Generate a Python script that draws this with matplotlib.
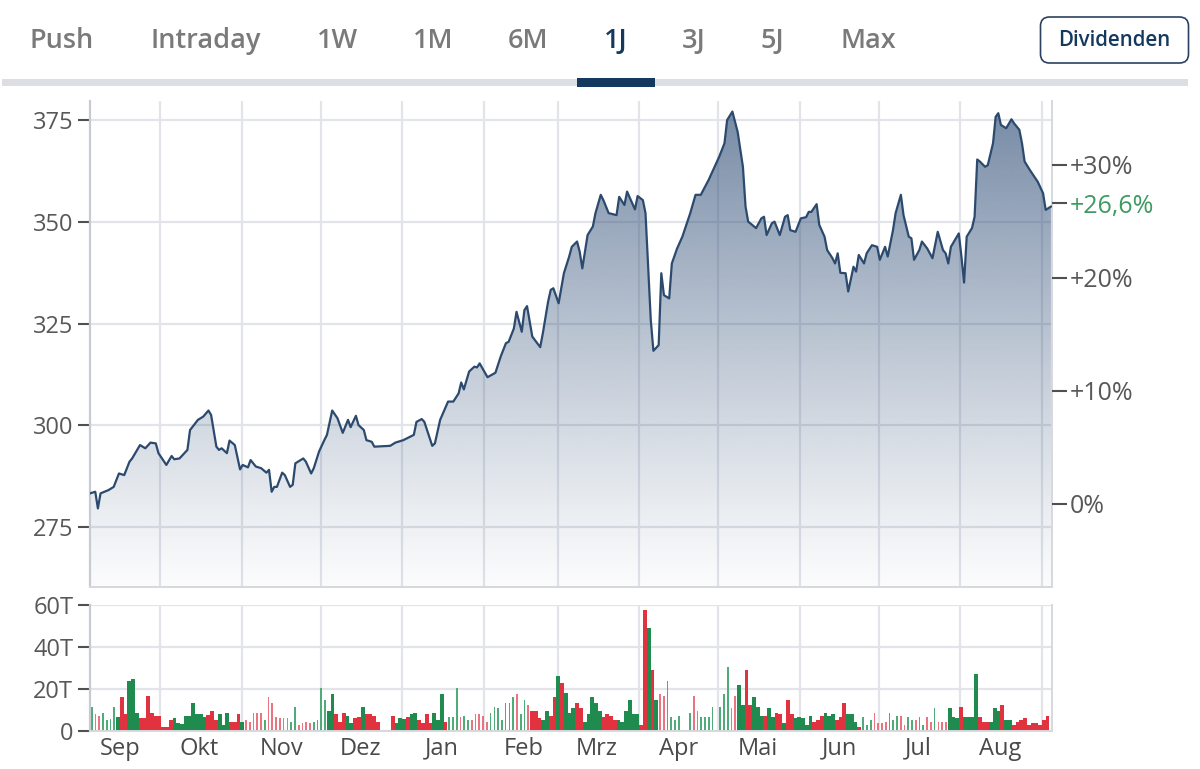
import numpy as np
import pandas as pd
import matplotlib.pyplot as plt
import matplotlib.dates as mdates
from matplotlib.patches import Rectangle, FancyBboxPatch
from matplotlib.transforms import IdentityTransform
from matplotlib.ticker import FixedLocator, FuncFormatter

plt.rcParams['font.family'] = ['Open Sans', 'DejaVu Sans']

# ---------------- data ----------------
start = pd.Timestamp('2022-09-04')

# day offsets from start and closing prices
price_day = [0, 2, 3, 4, 7, 9, 11, 13, 15, 16,
             19, 21, 23, 25, 26, 29, 31, 32, 34, 37,
             38, 41, 43, 45, 46, 48, 49, 50, 52, 53,
             55, 57, 58, 60, 61, 63, 65, 67, 68, 69,
             70, 71, 73, 74, 76, 77, 78, 81, 82, 84,
             85, 87, 89, 90, 92, 94, 96, 98, 99, 101,
             102, 104, 105, 107, 108, 114, 116, 119, 123, 124,
             126, 127, 130, 131, 133, 136, 138, 140, 141, 142,
             144, 146, 147, 148, 151, 154, 156, 158, 159, 161,
             162, 164, 165, 166, 168, 171, 172, 174, 175, 176,
             178, 180, 182, 183, 185, 186, 187, 189, 191, 192,
             194, 195, 197, 200, 201, 203, 204, 206, 207, 208,
             210, 211, 213, 214, 216, 217, 218, 220, 221, 223,
             225, 228, 230, 232, 235, 239, 241, 242, 244, 245,
             246, 248, 249, 250, 253, 255, 256, 257, 259, 260,
             262, 264, 265, 266, 268, 270, 272, 273, 274, 276,
             277, 279, 280, 282, 283, 284, 285, 287, 288, 290,
             291, 292, 294, 295, 297, 299, 300, 302, 303, 305,
             306, 308, 309, 311, 312, 313, 315, 316, 318, 320,
             322, 324, 325, 326, 327, 330, 331, 332, 333, 335,
             336, 337, 338, 340, 341, 343, 344, 345, 346, 348,
             350, 351, 353, 354, 355, 357, 360, 362, 363, 365]

price = [283.2, 283.6, 279.5, 283.2, 284.0, 284.8, 288.1, 287.7, 291.0, 291.8,
         295.1, 294.3, 295.7, 295.5, 293.1, 290.2, 292.4, 291.6, 291.8, 293.9,
         298.8, 301.3, 302.1, 303.6, 302.5, 294.7, 293.9, 294.3, 293.1, 296.2,
         295.1, 289.1, 290.2, 289.6, 291.4, 289.8, 289.4, 288.3, 289.0, 283.6,
         284.8, 284.8, 288.3, 287.7, 284.8, 285.3, 290.6, 291.8, 291.0, 288.1,
         289.4, 293.5, 296.3, 297.6, 303.6, 301.7, 298.1, 301.3, 299.5, 302.3,
         300.0, 298.8, 296.3, 295.9, 294.7, 294.9, 295.7, 296.3, 297.6, 300.8,
         301.5, 300.8, 294.9, 295.5, 301.3, 305.8, 305.8, 307.8, 310.5, 308.8,
         313.2, 314.4, 314.2, 315.2, 311.8, 312.9, 316.9, 320.2, 320.5, 323.8,
         327.9, 323.0, 328.3, 329.3, 321.8, 319.2, 322.6, 330.4, 333.3, 333.7,
         330.0, 337.4, 341.5, 343.9, 345.2, 342.7, 338.6, 346.8, 348.9, 352.2,
         356.7, 355.4, 352.2, 351.7, 356.2, 354.2, 357.5, 354.6, 353.1, 356.4,
         355.4, 352.2, 325.9, 318.3, 319.7, 337.4, 332.0, 331.2, 339.8, 343.5,
         346.4, 352.2, 356.7, 356.7, 360.4, 366.1, 369.4, 375.1, 377.2, 374.7,
         372.2, 363.6, 353.8, 350.1, 348.5, 350.9, 351.3, 346.8, 349.7, 350.1,
         346.8, 351.3, 351.7, 348.0, 347.6, 350.9, 351.2, 352.5, 352.5, 354.4,
         349.3, 346.4, 343.1, 341.1, 339.8, 342.3, 337.5, 337.4, 332.9, 339.0,
         337.8, 341.9, 339.8, 342.3, 344.3, 343.9, 340.7, 343.9, 341.5, 348.0,
         352.2, 356.7, 351.7, 346.4, 346.0, 340.7, 343.1, 345.2, 343.5, 341.1,
         347.6, 343.1, 342.3, 339.8, 343.9, 347.2, 341.5, 335.1, 346.4, 348.5,
         351.3, 365.4, 364.9, 363.6, 364.0, 369.4, 375.9, 376.8, 373.9, 373.1,
         375.3, 374.3, 372.7, 369.4, 364.9, 362.8, 359.9, 357.1, 353.0, 353.8]

# daily volume in thousands (T) and bar kind: G/R solid up/down, g/r light, - none
volume = [11.6, 8, 7, 8.7, 5.2, 5.5, 11.6, 6.5, 16, 8,
          23.8, 24.6, 8.7, 6, 6, 16.7, 8.7, 7, 7, 2,
          2, 5.2, 6, 4, 3.3, 7, 7, 13.2, 8, 8,
          6.8, 7.6, 9.7, 5.2, 8, 2.9, 8.7, 4.4, 4.4, 8,
          4.4, 5.2, 4.4, 8.7, 8.7, 8.7, 5.2, 16, 13.2, 6.5,
          6, 6, 6, 4.4, 11.6, 2.9, 3.7, 4.4, 4, 4.4,
          5.2, 20.3, 15, 9.7, 17.6, 8, 4.4, 8.7, 7, 3.7,
          6, 6.5, 11.6, 8, 8, 7, 4.4, 0, 0, 0,
          7, 3.7, 6, 5.5, 6.5, 8, 8.7, 5.2, 4, 8,
          4, 8.7, 5.2, 17.6, 4.4, 6.5, 6.5, 20.3, 6.5, 7,
          5.2, 5.2, 8, 8, 7, 4.4, 8.7, 11.6, 10.8, 5.2,
          13.2, 13.2, 16, 17.6, 8, 15, 12.4, 9.7, 9.7, 6,
          5.2, 9.7, 7, 16, 26.2, 22.7, 18.3, 8.7, 10.8, 13.2,
          10.8, 4.4, 8, 16, 13.2, 9.7, 6.5, 8, 7, 5.2,
          5.2, 4.4, 9.7, 15, 8, 8, 2.9, 57.6, 48.9, 29,
          15, 17.6, 16.7, 24, 6.5, 5.2, 7, 0, 0, 8.7,
          16.7, 9.7, 6.5, 6.5, 6.5, 11.6, 0, 11.6, 17.6, 30.6,
          10.8, 16.7, 21.9, 12.4, 29, 12.4, 16, 11.6, 7, 7,
          10.8, 6.5, 8.7, 8, 3.7, 15, 8, 6, 6.5, 6,
          2.9, 7, 4.4, 5.2, 7, 8.7, 7, 8, 5.2, 6.5,
          13.2, 8, 8, 4.4, 2, 6.5, 2.9, 5.2, 8.7, 3.7,
          3.7, 4.4, 8.7, 5.2, 7, 7, 2.9, 6.5, 5.2, 5.2,
          6.5, 2.9, 6.5, 4.4, 10.8, 4.4, 4.4, 4.4, 10.8, 6.5,
          6, 11.6, 6.5, 6.5, 6.5, 27.1, 6.5, 4.4, 4.4, 4.4,
          10.8, 9.7, 12.4, 5.2, 5.2, 2.9, 4.4, 5.2, 6, 2.9,
          3.7, 3.7, 2.9, 5.2, 7]
vol_kind = ("grrggggGRR" "GGGRRRRRRR" "RRGGGGGGGG" "GRRRGGGRRR" "Grrrrrgrrr"
            "rrrggrrrrg" "gggGGRRRGG" "RRGRRRR---" "RGGGRGGRRR" "RGGGRgggrg"
            "grrrrrgggg" "gggrggrRRR" "GGRRGRGGGR" "RGGGGGRRRR" "GGGGGGRRGR"
            "Grrgggg--g" "rrgggg-ggg" "rrGGRRGGGR" "GGRRGRRGGG" "GGRRRGGGRR"
            "RGGGRgggrr" "rrgggrrggr" "ggrrgrrrGG" "GRGGGGRRRG" "GGRGGRRRRR"
            "RRRRR")

price_ticks = [275, 300, 325, 350, 375]
vol_ticks = [0, 20, 40, 60]
vol_labels = ['0', '20T', '40T', '60T']
pct_ticks = [0, 10, 20, 30]
pct_labels = ['0%', '+10%', '+20%', '+30%']
pct_now = 26.6
month_labels = ['Jan', 'Feb', 'Mrz', 'Apr', 'Mai', 'Jun',
                'Jul', 'Aug', 'Sep', 'Okt', 'Nov', 'Dez']
tabs = ['Push', 'Intraday', '1W', '1M', '6M', '1J', '3J', '5J', 'Max']
active_tab = '1J'

# ---------------- layout ----------------
W, H = 1200, 769
fig = plt.figure(figsize=(W / 100, H / 100), dpi=100)

def fx(x):
    return x / W

def fy(y):
    return 1 - y / H

GREY_TXT = '#585858'
GRID = '#e2e4ea'
SPINE = '#d6d8de'

# tab bar
tab_x = [62, 206, 337, 433, 528, 616, 694, 772, 868]
for name, x in zip(tabs, tab_x):
    active = name == active_tab
    fig.text(fx(x), fy(41), name, ha='center', va='center', fontsize=19.5,
             fontweight='semibold', color='#15395e' if active else '#7a7a7a')
fig.add_artist(Rectangle((fx(2), fy(86)), 1186 / W, 7 / H, transform=fig.transFigure,
                         facecolor='#dcdee4', edgecolor='none'))
fig.add_artist(Rectangle((fx(577), fy(87)), 78 / W, 9 / H, transform=fig.transFigure,
                         facecolor='#15395e', edgecolor='none'))
fig.add_artist(FancyBboxPatch((1040.5, H - 63), 148, 46, transform=IdentityTransform(),
                              boxstyle='round,pad=0,rounding_size=9',
                              facecolor='white', edgecolor='#2b4160', linewidth=1.2))
fig.text(fx(1114), fy(41), 'Dividenden', ha='center', va='center', fontsize=14.8,
         fontweight='semibold', color='#15395e')

# x range in date numbers
x0 = mdates.date2num(start)
xlim = (x0 + 0.4, x0 + 0.4 + 365.4)
px = x0 + 0.4 + np.array(price_day, dtype=float)
py = np.array(price)
ylim = (260.15, 379.8)

# ---------------- price chart ----------------
ax = fig.add_axes([fx(90), fy(587), 962 / W, 486 / H])
ax.xaxis_date()
ax.set_axisbelow(True)
ax.grid(True, color=GRID, linewidth=1.6)
ax.xaxis.set_major_locator(mdates.MonthLocator())
ax.tick_params(axis='x', length=0, labelbottom=False)
ax.yaxis.set_major_locator(FixedLocator(price_ticks))
ax.set_yticklabels([str(t) for t in price_ticks])
ax.tick_params(axis='y', length=9, width=1.5, color='#505050', pad=3,
               labelsize=17, labelcolor=GREY_TXT)
ax.spines['top'].set_visible(False)
ax.spines['left'].set_color('#c8cbd3')
ax.spines['left'].set_linewidth(1.6)
for s in ('right', 'bottom'):
    ax.spines[s].set_color(SPINE)
    ax.spines[s].set_linewidth(1.4)

# gradient fill under the line
n = 256
t = np.linspace(0, 1, n)
grad = np.zeros((n, 1, 4))
grad[:, 0, 0] = 52 / 255
grad[:, 0, 1] = 82 / 255
grad[:, 0, 2] = 122 / 255
grad[:, 0, 3] = 0.66 * (1 - t) ** 1.1 + 0.02
im = ax.imshow(grad, extent=[xlim[0], xlim[1], ylim[0], ylim[1]], aspect='auto',
               origin='upper', zorder=1, interpolation='bilinear')
poly = ax.fill_between(px, py, ylim[0], facecolor='none', linewidth=0)
im.set_clip_path(poly.get_paths()[0], transform=ax.transData)
ax.plot(px, py, color='#2c4a6e', linewidth=1.6, zorder=3)
ax.set_xlim(*xlim)
ax.set_ylim(*ylim)

# percentage axis on the right
axr = ax.twinx()
axr.set_ylim(-7.35, 35.66)
axr.yaxis.set_major_locator(FixedLocator(pct_ticks + [pct_now]))
axr.set_yticklabels(pct_labels + ['+' + f'{pct_now:.1f}'.replace('.', ',') + '%'])
axr.tick_params(axis='y', length=11, width=1.5, color='#505050', pad=2,
                labelsize=18, labelcolor=GREY_TXT)
axr.get_yticklabels()[-1].set_color('#3d9a60')
for s in axr.spines.values():
    s.set_visible(False)

# ---------------- volume chart ----------------
axv = fig.add_axes([fx(90), fy(731), 962 / W, 126 / H])
axv.xaxis_date()
axv.set_axisbelow(True)
axv.grid(True, which='major', color=GRID, linewidth=1.6)

nv = len(volume)
vx = x0 + np.linspace(1.05, 364.1, nv)
step = vx[1] - vx[0]
vol = np.array(volume)
kinds = np.array(list(vol_kind))
styles = {'G': ('#1f8b4f', 1.0), 'R': ('#e0323f', 1.0),
          'g': ('#4fab77', 0.45), 'r': ('#ec7481', 0.45)}
for k, (col, wf) in styles.items():
    m = kinds == k
    axv.bar(vx[m], vol[m], width=step * wf, color=col, linewidth=0, zorder=2)

axv.set_xlim(*xlim)
axv.set_ylim(0, 60)
axv.yaxis.set_major_locator(FixedLocator(vol_ticks))
axv.set_yticklabels(vol_labels)
axv.tick_params(axis='y', length=9, width=1.5, color='#505050', pad=3,
                labelsize=17, labelcolor=GREY_TXT)
axv.xaxis.set_major_locator(mdates.MonthLocator())
axv.xaxis.set_major_formatter(FuncFormatter(lambda v, p: ''))
axv.xaxis.set_minor_locator(mdates.MonthLocator(bymonthday=16))
axv.xaxis.set_minor_formatter(
    FuncFormatter(lambda v, p: month_labels[mdates.num2date(v).month - 1]))
axv.tick_params(axis='x', which='both', length=0)
axv.tick_params(axis='x', which='minor', labelsize=17, labelcolor='#4a4a4a', pad=4)
axv.spines['top'].set_visible(False)
axv.spines['left'].set_color('#c8cbd3')
axv.spines['left'].set_linewidth(1.6)
for s in ('right', 'bottom'):
    axv.spines[s].set_color(SPINE)
    axv.spines[s].set_linewidth(1.4)

fig.savefig('out.png', dpi=100)
